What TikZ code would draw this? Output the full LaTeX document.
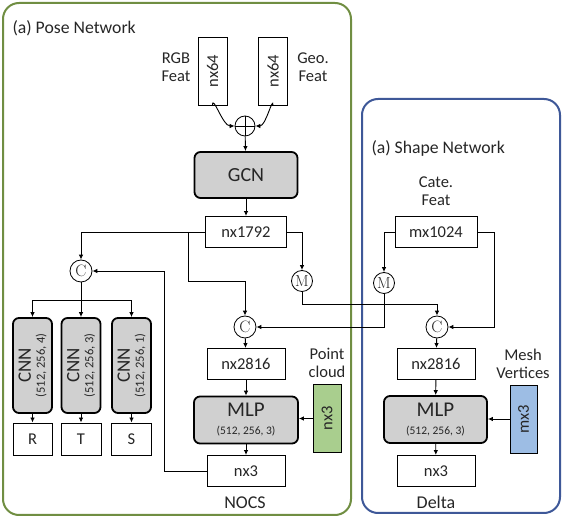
\documentclass[tikz,border=0pt]{standalone}
\usepackage{fontspec}
\newfontfamily\calibri{Carlito}
\usetikzlibrary{arrows.meta}

\definecolor{posegreen}{RGB}{112,142,66}
\definecolor{shapeblue}{RGB}{62,88,152}
\definecolor{blockgray}{RGB}{208,208,208}
\definecolor{pcgreen}{RGB}{169,206,142}
\definecolor{meshblue}{RGB}{157,189,228}

\newcommand{\smalltxt}{\fontsize{11.5}{12}\selectfont}
\newcommand{\cnntxt}{\fontsize{12.5}{13}\selectfont}

\begin{document}
\begin{tikzpicture}[x=1pt,y=-1pt,
    every node/.style={font=\calibri\fontsize{16.5}{18}\selectfont, text=black!85},
    feat_node/.style={draw,fill=white,line width=0.9pt,minimum width=78pt,minimum height=31pt,inner sep=0pt},
    tall_node/.style={draw,line width=0.9pt,rotate=90,minimum width=68pt,minimum height=29pt,inner sep=0pt},
    block_node/.style={draw,fill=blockgray,line width=1.8pt,rounded corners=6pt,inner sep=0pt,align=center},
    op_node/.style={circle,draw,fill=white,line width=0.8pt,inner sep=0pt,minimum size=22pt,font=\rmfamily\fontsize{16.5}{16}\selectfont},
    arr/.style={line width=0.9pt,-{Latex[length=5pt,width=4.5pt]}},
    frame/.style={line width=2pt,rounded corners=16pt}]

    \useasboundingbox (0,0) rectangle (563,518);

    % frames
    \draw[frame,posegreen] (3,3) rectangle (351,515);
    \draw[frame,shapeblue] (362,99) rectangle (560,513);
    \node[anchor=west,font=\calibri\fontsize{17.7}{20}\selectfont] (pose_title) at (9,28) {(a) Pose Network};
    \node[anchor=west,font=\calibri\fontsize{17.7}{20}\selectfont] (shape_title) at (368,148) {(a) Shape Network};

    % pose network
    \node[tall_node] (rgb) at (212.5,71) {nx64};
    \node[tall_node] (geo) at (273,71) {nx64};
    \node[align=center] (rgb_lbl) at (176,67) {RGB\\Feat};
    \node[align=center] (geo_lbl) at (313,67) {Geo.\\Feat};
    \node[circle,draw,line width=0.8pt,minimum size=20pt,inner sep=0pt] (plus) at (245,126) {};
    \draw[line width=0.8pt] (plus.north) -- (plus.south) (plus.west) -- (plus.east);
    \node[block_node,minimum width=103pt,minimum height=46pt,font=\calibri\fontsize{20}{22}\selectfont] (gcn) at (246,175) {GCN};
    \node[feat_node,minimum width=81pt] (feat) at (246,232) {nx1792};

    \node[op_node] (c1) at (81,271) {C};
    \node[op_node] (c2) at (245,327) {C};
    \node[op_node,minimum size=21pt,font=\rmfamily\fontsize{16}{16}\selectfont] (m1) at (302,281) {M};

    \node[block_node,rotate=90,minimum width=95pt,minimum height=39pt,font=\calibri\fontsize{19}{19}\selectfont] (cnn_r) at (32.5,365.5) {CNN\\[-5pt]{\cnntxt(512, 256, 4)}};
    \node[block_node,rotate=90,minimum width=95pt,minimum height=39pt,font=\calibri\fontsize{19}{19}\selectfont] (cnn_t) at (81,365.5) {CNN\\[-5pt]{\cnntxt(512, 256, 3)}};
    \node[block_node,rotate=90,minimum width=95pt,minimum height=39pt,font=\calibri\fontsize{19}{19}\selectfont] (cnn_s) at (131.5,365.5) {CNN\\[-5pt]{\cnntxt(512, 256, 1)}};
    \node[feat_node,minimum width=39pt,minimum height=32pt] (r) at (32.5,439) {R};
    \node[feat_node,minimum width=40pt,minimum height=32pt] (t) at (81,439) {T};
    \node[feat_node,minimum width=40pt,minimum height=32pt] (s) at (131.5,439) {S};

    \node[feat_node] (nocs_feat) at (246,364) {nx2816};
    \node[block_node,minimum width=104pt,minimum height=47pt,font=\calibri\fontsize{21}{21}\selectfont] (nocs_mlp) at (246,420) {MLP\\[-3pt]{\smalltxt(512, 256, 3)}};
    \node[feat_node] (nocs_out) at (246,471) {nx3};
    \node[font=\calibri\fontsize{18}{20}\selectfont] (nocs_lbl) at (245,503) {NOCS};
    \node[tall_node,fill=pcgreen,minimum height=28pt] (pc) at (327,418.5) {nx3};
    \node[align=center] (pc_lbl) at (327,363) {Point\\cloud};

    % shape network
    \node[align=center] (cat_lbl) at (436,191) {Cate.\\Feat};
    \node[feat_node,minimum width=82pt] (cat) at (436,232) {mx1024};
    \node[op_node,minimum size=21pt,font=\rmfamily\fontsize{16}{16}\selectfont] (m2) at (384,283) {M};
    \node[op_node] (c3) at (437,327) {C};
    \node[feat_node] (delta_feat) at (436,364) {nx2816};
    \node[block_node,minimum width=103pt,minimum height=47pt,font=\calibri\fontsize{21}{21}\selectfont] (delta_mlp) at (435.5,419.5) {MLP\\[-3pt]{\smalltxt(512, 256, 3)}};
    \node[feat_node] (delta_out) at (436,471) {nx3};
    \node[font=\calibri\fontsize{18}{20}\selectfont] (delta_lbl) at (436,502) {Delta};
    \node[tall_node,fill=meshblue,minimum height=27pt] (mesh) at (523.5,419) {mx3};
    \node[align=center] (mesh_lbl) at (523,364) {Mesh\\Vertices};

    % connectors
    \draw[arr] (rgb.west) to[out=90,in=180] (plus.west);
    \draw[arr] (geo.west) to[out=90,in=0] (plus.east);
    \draw[arr] (plus) -- (gcn);
    \draw[arr] (gcn) -- (feat);
    \draw[arr] (feat.west) -| (c1);
    \draw[arr] (feat.west) ++(-17,0) -- ++(0,49) -| (c2);
    \draw[arr] (feat.east) -| (m1);
    \draw[arr] (m1.south) -- ++(0,13) -| (c3);
    \draw[arr] (cat.west) -| (m2);
    \draw[arr] (m2.south) |- (c2.east);
    \draw[arr] (cat.east) -- ++(17,0) |- (c3.east);

    \draw[arr] (c1.south) -- ++(0,18) -| (cnn_r);
    \draw[arr] (c1.south) -- ++(0,18) -| (cnn_s);
    \draw[arr] (c1) -- (cnn_t);
    \draw[arr] (cnn_r) -- (r);
    \draw[arr] (cnn_t) -- (t);
    \draw[arr] (cnn_s) -- (s);

    \draw[arr] (c2) -- (nocs_feat);
    \draw[arr] (nocs_feat) -- (nocs_mlp);
    \draw[arr] (nocs_mlp) -- (nocs_out);
    \draw[arr] (pc.north) -- (nocs_mlp.east |- pc.north);
    \draw[arr] (nocs_out.west) -- ++(-42,0) |- (c1.east);

    \draw[arr] (c3) -- (delta_feat);
    \draw[arr] (delta_feat) -- (delta_mlp);
    \draw[arr] (delta_mlp) -- (delta_out);
    \draw[arr] (mesh.north) -- (delta_mlp.east |- mesh.north);

\end{tikzpicture}
\end{document}
